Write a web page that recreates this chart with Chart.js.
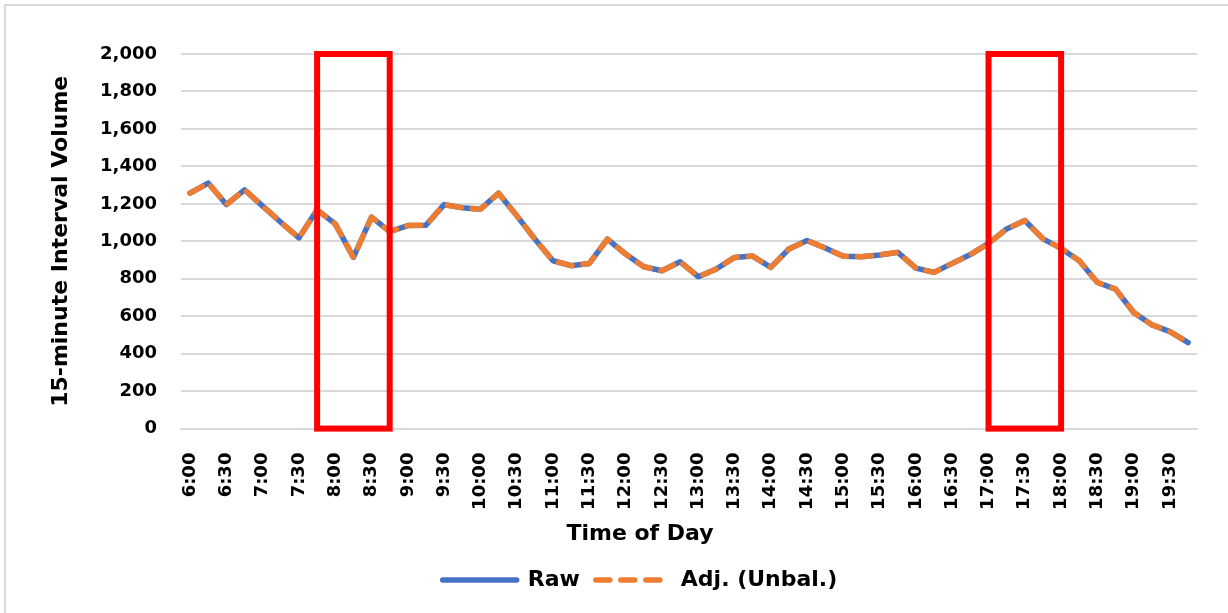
<!DOCTYPE html>
<html>
<head>
<meta charset="utf-8">
<script src="https://cdn.jsdelivr.net/npm/chart.js@4/dist/chart.umd.min.js"></script>
<style>
  html, body { margin: 0; padding: 0; background: #fff; overflow: hidden; }
  #wrap { position: relative; width: 1228px; height: 613px; }
  #frame { position: absolute; left: 4px; top: 4px; width: 1400px; height: 800px; border: 2px solid #d9d9d9; pointer-events: none; }
  canvas { position: absolute; left: 0; top: 0; }
</style>
</head>
<body>
<div id="wrap">
  <div id="frame"></div>
  <canvas id="volChart" width="1228" height="613"></canvas>
</div>
<script>
  // 15-minute bins, 6:00 to 19:45
  const timeLabels = [
    '6:00', '6:15', '6:30', '6:45', '7:00', '7:15', '7:30', '7:45',
    '8:00', '8:15', '8:30', '8:45', '9:00', '9:15', '9:30', '9:45',
    '10:00', '10:15', '10:30', '10:45', '11:00', '11:15', '11:30', '11:45',
    '12:00', '12:15', '12:30', '12:45', '13:00', '13:15', '13:30', '13:45',
    '14:00', '14:15', '14:30', '14:45', '15:00', '15:15', '15:30', '15:45',
    '16:00', '16:15', '16:30', '16:45', '17:00', '17:15', '17:30', '17:45',
    '18:00', '18:15', '18:30', '18:45', '19:00', '19:15', '19:30', '19:45'
  ];

  const rawVolume = [
    1257, 1311, 1196, 1275, 1188, 1102, 1018, 1168,
    1093, 914, 1129, 1052, 1084, 1086, 1196, 1179,
    1171, 1257, 1137, 1012, 896, 870, 882, 1012,
    932, 864, 843, 891, 811, 852, 914, 921,
    861, 959, 1004, 964, 920, 918, 927, 941,
    857, 834, 882, 929, 989, 1066, 1111, 1013,
    962, 896, 780, 745, 620, 554, 518, 459
  ];

  const adjVolume = [
    1257, 1311, 1196, 1275, 1188, 1102, 1018, 1168,
    1093, 914, 1129, 1052, 1084, 1086, 1196, 1179,
    1171, 1257, 1137, 1012, 896, 870, 882, 1012,
    932, 864, 843, 891, 811, 852, 914, 921,
    861, 959, 1004, 964, 920, 918, 927, 941,
    857, 834, 882, 929, 989, 1066, 1111, 1013,
    962, 896, 780, 745, 620, 554, 518, 459
  ];

  const yMin = 0, yMax = 2000, yStep = 200;

  // peak windows marked with red boxes
  const peakStart = ['7:45', '17:00'];
  const peakEnd = ['8:45', '18:00'];

  const FONT = "'DejaVu Sans', sans-serif";
  Chart.defaults.color = '#000';
  Chart.defaults.font.family = FONT;

  const peakBoxes = {
    id: 'peakBoxes',
    afterDatasetsDraw(chart) {
      const { ctx, scales: { x, y } } = chart;
      ctx.save();
      ctx.strokeStyle = '#ff0000';
      ctx.lineWidth = 6;
      peakStart.forEach((s, i) => {
        const x0 = x.getPixelForValue(timeLabels.indexOf(s));
        const x1 = x.getPixelForValue(timeLabels.indexOf(peakEnd[i]));
        const y0 = y.getPixelForValue(yMax);
        const y1 = y.getPixelForValue(yMin);
        ctx.strokeRect(x0, y0, x1 - x0, y1 - y0);
      });
      ctx.restore();
    }
  };

  // legend samples should look like the series lines, in dataset order
  const legendItems = (chart) => {
    const items = Chart.defaults.plugins.legend.labels.generateLabels(chart);
    items.forEach((it) => {
      const ds = chart.data.datasets[it.datasetIndex];
      it.strokeStyle = ds.borderColor;
      it.lineWidth = ds.borderWidth;
      it.lineDash = ds.borderDash || [];
      it.lineCap = 'round';
    });
    return items.sort((a, b) => a.datasetIndex - b.datasetIndex);
  };

  new Chart(document.getElementById('volChart'), {
    type: 'line',
    data: {
      labels: timeLabels,
      datasets: [
        {
          label: 'Raw', data: rawVolume, order: 2,
          borderColor: '#4472c4', backgroundColor: '#4472c4',
          borderWidth: 5.5, pointRadius: 0, tension: 0,
          borderCapStyle: 'round', borderJoinStyle: 'round'
        },
        {
          label: 'Adj. (Unbal.)', data: adjVolume, order: 1,
          borderColor: '#ed7d31', backgroundColor: '#ed7d31',
          borderWidth: 5.5, borderDash: [14, 11], pointRadius: 0, tension: 0,
          borderCapStyle: 'round', borderJoinStyle: 'round'
        }
      ]
    },
    options: {
      responsive: false,
      animation: false,
      layout: { padding: { left: 81, right: 29, top: 54, bottom: 12 } },
      scales: {
        x: {
          offset: true,
          // invisible tick marks just push the labels down
          grid: { display: false, drawTicks: true, tickLength: 6 },
          border: { color: '#d9d9d9', width: 2 },
          ticks: {
            autoSkip: false, maxRotation: 90, minRotation: 90, padding: 18,
            font: { size: 18, weight: 'bold' },
            callback: (v, i) => (i % 2 === 0 ? timeLabels[i] : '')
          },
          afterFit: (s) => { s.height = 86; }
        },
        y: {
          min: yMin, max: yMax,
          grid: { color: '#d9d9d9', lineWidth: 2, drawTicks: false },
          border: { display: false },
          ticks: {
            stepSize: yStep, padding: 24,
            font: { size: 18, weight: 'bold' },
            callback: (v) => v.toLocaleString('en-US')
          },
          title: {
            display: true, text: '15-minute Interval Volume',
            font: { size: 22, weight: 'bold' },
            padding: { top: -33, bottom: 0 }
          },
          afterFit: (s) => { s.width = 100; }
        }
      },
      plugins: {
        title: {
          display: true, text: 'Time of Day', position: 'bottom', weight: 500,
          font: { size: 22, weight: 'bold' },
          padding: { top: 6, bottom: 6 }
        },
        legend: {
          position: 'bottom',
          labels: {
            usePointStyle: true, pointStyle: 'line', pointStyleWidth: 74,
            padding: 16, font: { size: 22, weight: 'bold' },
            generateLabels: legendItems
          }
        },
        tooltip: { enabled: false }
      }
    },
    plugins: [peakBoxes]
  });
</script>
</body>
</html>
